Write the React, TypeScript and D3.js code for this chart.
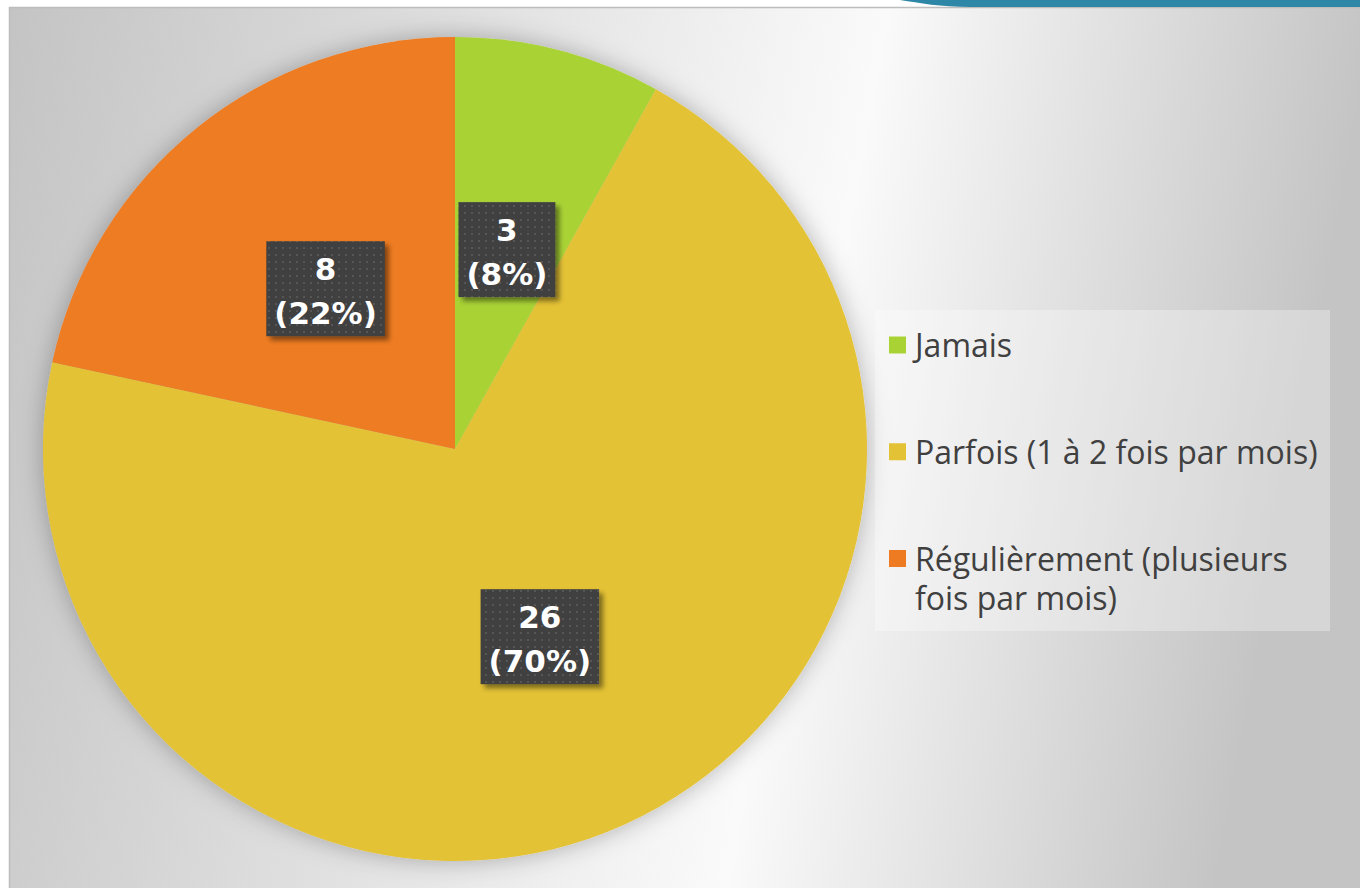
import React from 'react';
import * as d3 from 'd3';

const categories = ['Jamais', 'Parfois (1 à 2 fois par mois)', 'Régulièrement (plusieurs fois par mois)'];
const legendLines = [['Jamais'], ['Parfois (1 à 2 fois par mois)'], ['Régulièrement (plusieurs', 'fois par mois)']];
const values = [3, 26, 8];
const colors = ['#a9d334', '#e4c236', '#ee7b22'];

const W = 1360;
const H = 888;
const CX = 455;
const CY = 449;
const R = 412;
const LABEL_FONT = "bold 31px 'DejaVu Sans'";
const LEGEND_FONT = "32px 'Open Sans'";

function measure(text: string, font: string): number {
  const c = document.createElement('canvas');
  const ctx = c.getContext('2d');
  if (!ctx) return text.length * 18;
  ctx.font = font;
  return ctx.measureText(text).width;
}

export default function App() {
  const total = d3.sum(values);
  const pie = d3.pie<number>().sort(null).value((d) => d);
  const arcs = pie(values);
  const arcGen = d3.arc<d3.PieArcDatum<number>>().innerRadius(0).outerRadius(R);
  const pct = d3.format('.0%');

  const legendY = d3.scalePoint<number>().domain([0, 1, 2]).range([345, 558.5]);

  return (
    <div style={{ position: 'fixed', left: 0, top: 0 }}>
      <svg width={W} height={H} style={{ display: 'block' }}>
        <defs>
          <linearGradient id="bg" x1="0" y1="0" x2="1" y2="0.12">
            <stop offset="0" stopColor="#c4c4c4" />
            <stop offset="0.2" stopColor="#d4d4d4" />
            <stop offset="0.64" stopColor="#fafafa" />
            <stop offset="0.84" stopColor="#dcdcdc" />
            <stop offset="1" stopColor="#c4c4c4" />
          </linearGradient>
          <filter id="pieShadow" x="-20%" y="-20%" width="140%" height="140%">
            <feDropShadow dx="0" dy="0" stdDeviation="12" floodColor="#000" floodOpacity="0.28" />
          </filter>
          <filter id="boxShadow" x="-20%" y="-20%" width="150%" height="150%">
            <feDropShadow dx="4" dy="4" stdDeviation="2.5" floodColor="#000" floodOpacity="0.45" />
          </filter>
          <pattern id="dots" width="7" height="7" patternUnits="userSpaceOnUse">
            <rect width="7" height="7" fill="#404040" />
            <rect x="2" y="2" width="2" height="2" fill="#575757" />
          </pattern>
        </defs>
        <rect x={0} y={0} width={W} height={H} fill="#ffffff" />
        <rect x={10} y={8} width={W - 10} height={H - 8} fill="url(#bg)" />
        <line x1={9} y1={7.5} x2={W} y2={7.5} stroke="#bdbdbd" strokeWidth={1.5} />
        <line x1={9.5} y1={7} x2={9.5} y2={H} stroke="#bdbdbd" strokeWidth={1.5} />
        <path d={`M 900 0 L ${W} 0 L ${W} 7 L 970 7 C 940 7 920 3 900 0 Z`} fill="#2e87a7" />

        <g transform={`translate(${CX},${CY})`} filter="url(#pieShadow)">
          {arcs.map((a, i) => (
            <path key={categories[i]} d={arcGen(a) || ''} fill={colors[i]} />
          ))}
        </g>

        {arcs.map((a, i) => {
          const [x, y] = arcGen.centroid(a);
          const line1 = String(values[i]);
          const line2 = `(${pct(values[i] / total)})`;
          const tw = Math.max(measure(line1, LABEL_FONT), measure(line2, LABEL_FONT));
          const bw = tw + 16;
          const bh = 95;
          const bx = CX + x - bw / 2;
          const by = CY + y - bh / 2;
          return (
            <g key={'lbl' + i}>
              <rect x={bx} y={by} width={bw} height={bh} fill="url(#dots)" filter="url(#boxShadow)" />
              <text textAnchor="middle" fill="#ffffff" style={{ font: LABEL_FONT }}>
                <tspan x={CX + x} y={CY + y - 9}>{line1}</tspan>
                <tspan x={CX + x} y={CY + y + 35}>{line2}</tspan>
              </text>
            </g>
          );
        })}

        <rect x={875} y={310} width={455} height={321} fill="#ffffff" fillOpacity={0.3} />
        {legendLines.map((lines, i) => {
          const cy = legendY(i) as number;
          return (
            <g key={'leg' + i}>
              <rect x={889} y={cy - 8.5} width={17} height={17} fill={colors[i]} />
              <text fill="#404040" style={{ font: LEGEND_FONT }}>
                {lines.map((t, j) => (
                  <tspan key={j} x={915} y={cy + 12 + j * 39}>{t}</tspan>
                ))}
              </text>
            </g>
          );
        })}
      </svg>
    </div>
  );
}
